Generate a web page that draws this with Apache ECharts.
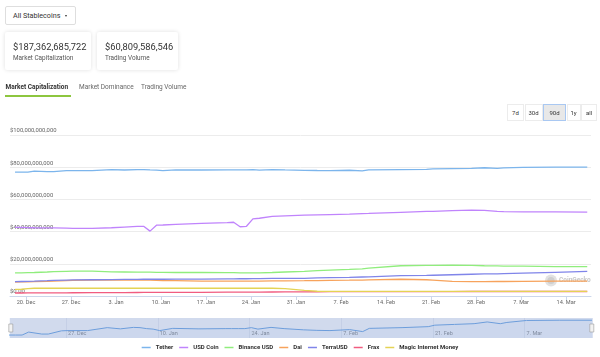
<!DOCTYPE html>
<html><head><meta charset="utf-8">
<script src="https://cdn.jsdelivr.net/npm/echarts@6/dist/echarts.min.js"></script>
<style>
html,body{margin:0;padding:0;background:#fff;width:600px;height:357px;overflow:hidden;font-family:Roboto,"Noto Sans",sans-serif;}
#chart{position:absolute;left:0;top:0;width:600px;height:357px;}
.ui{position:absolute;z-index:2;white-space:nowrap;box-sizing:border-box;}
#dd{left:5px;top:6px;width:71px;height:19px;border:1px solid #dedede;border-radius:2px;font-size:7.2px;color:#333;line-height:17px;padding-left:7px;background:#fff;}
#dd .caret{position:absolute;left:59px;top:7.5px;width:0;height:0;border-left:1.6px solid transparent;border-right:1.6px solid transparent;border-top:2px solid #333;}
.card{background:#fff;border-radius:2px;box-shadow:0 0 4px rgba(0,0,0,0.13);height:38px;top:32px;}
.card .num{position:absolute;left:8px;top:9px;font-size:9.3px;line-height:11px;color:#333;}
.card .lbl{position:absolute;left:8px;top:22px;font-size:6.4px;line-height:8px;color:#555;}
.tab{top:83px;font-size:6.5px;line-height:8px;color:#666;}
.tab.active{font-weight:bold;color:#333;}
#uline{left:5px;top:95.3px;width:66px;height:1.3px;background:#8dc63f;}
.btn{top:104px;height:17px;border:1px solid #ececec;font-size:6px;line-height:15px;text-align:center;color:#333;background:#fff;}
.btn.on{background:#e8e8e8;border:1px solid #a9c8f2;}
</style></head>
<body>
<div id="chart"></div>
<div class="ui" id="dd">All Stablecoins<span class="caret"></span></div>
<div class="ui card" style="left:5px;width:86px;"><div class="num">$187,362,685,722</div><div class="lbl">Market Capitalization</div></div>
<div class="ui card" style="left:97px;width:81px;"><div class="num">$60,809,586,546</div><div class="lbl">Trading Volume</div></div>
<div class="ui tab active" style="left:5.5px;">Market Capitalization</div>
<div class="ui" id="uline"></div>
<div class="ui tab" style="left:79px;">Market Dominance</div>
<div class="ui tab" style="left:141px;">Trading Volume</div>
<div class="ui btn" style="left:507px;width:17px;">7d</div>
<div class="ui btn" style="left:524.5px;width:18px;">30d</div>
<div class="ui btn on" style="left:543px;width:23px;">90d</div>
<div class="ui btn" style="left:566.5px;width:14px;">1y</div>
<div class="ui btn" style="left:581px;width:16px;">all</div>
<script>
// ---- data (values in billions of USD) ----
const dates = ['2021-12-18','2021-12-19','2021-12-20','2021-12-21','2021-12-23','2021-12-24','2021-12-26','2021-12-27','2021-12-30',
 '2022-01-02','2022-01-04','2022-01-06','2022-01-07','2022-01-08','2022-01-09','2022-01-10','2022-01-12','2022-01-16','2022-01-20','2022-01-21','2022-01-22','2022-01-23','2022-01-24','2022-01-25','2022-01-27','2022-01-29',
 '2022-02-01','2022-02-03','2022-02-05','2022-02-08','2022-02-10','2022-02-11','2022-02-16','2022-02-20','2022-02-21','2022-02-24','2022-02-27',
 '2022-03-01','2022-03-03','2022-03-04','2022-03-07','2022-03-12','2022-03-17'];
const tether = [77.0,77.0,77.0,77.6,77.2,77.2,77.85,77.9,77.9,
 78.5,78.25,78.55,78.5,78.3,78.2,77.9,78.35,78.25,78.3,78.3,78.3,78.3,78.5,78.2,78.55,78.3,
 78.05,77.95,77.9,78.1,77.7,78.35,78.5,78.7,79.0,79.15,79.3,
 79.65,79.3,79.55,79.95,80.0,80.0];
const usdCoin = [42.6,42.6,42.5,42.4,42.3,42.3,42.1,42.0,42.0,
 42.4,42.8,43.2,43.3,40.3,44.0,44.1,44.5,45.1,45.6,45.8,43.0,43.3,47.9,48.3,49.4,49.8,
 50.2,50.4,50.6,50.9,51.2,51.3,52.0,52.5,52.6,53.0,53.3,
 53.2,52.6,52.4,52.2,52.2,52.1];
const binanceUsd = [14.4,14.4,14.5,14.6,14.9,15.1,15.3,15.4,15.4,
 15.0,14.9,14.8,14.8,14.8,14.7,14.7,14.6,14.6,14.5,14.5,14.4,14.4,14.4,14.4,14.6,14.9,
 15.3,15.7,16.1,16.5,16.9,17.3,18.8,19.0,19.0,19.2,19.0,
 18.8,18.7,18.6,18.5,18.3,18.2];
const dai = [8.7,8.75,8.8,8.9,9.1,9.3,9.6,9.7,9.8,
 9.9,9.9,9.9,9.9,9.8,9.7,9.6,9.5,9.3,9.3,9.3,9.3,9.3,9.3,9.3,9.4,9.4,
 9.5,9.6,9.7,9.8,9.9,10.0,10.4,10.1,9.9,9.1,8.9,
 8.9,9.0,9.0,9.1,9.2,9.3];
const terraUsd = [8.9,9.0,9.1,9.2,9.5,9.7,9.9,10.0,10.1,
 10.2,10.3,10.3,10.4,10.4,10.4,10.4,10.5,10.5,10.6,10.6,10.7,10.7,10.8,10.8,10.9,10.9,
 11.0,11.2,11.4,11.6,11.8,11.9,12.6,12.8,12.9,13.2,13.5,
 13.7,13.8,13.9,14.2,14.7,15.3];
const frax = [1.85,1.86,1.88,1.9,1.95,1.97,2.0,2.02,2.08,
 2.12,2.15,2.18,2.2,2.2,2.2,2.22,2.25,2.3,2.35,2.37,2.38,2.4,2.42,2.44,2.5,2.55,
 2.6,2.65,2.7,2.72,2.74,2.75,2.75,2.76,2.76,2.77,2.78,
 2.78,2.79,2.79,2.8,2.8,2.8];
const magicInternetMoney = [4.15,4.2,4.6,4.8,4.8,4.8,4.8,4.8,4.8,
 4.8,4.8,4.8,4.8,4.8,4.8,4.8,4.8,4.8,4.8,4.8,4.8,4.8,4.8,4.8,4.8,4.6,
 3.5,2.95,2.9,2.9,2.9,2.9,2.9,2.9,2.9,2.88,2.88,
 2.87,2.87,2.86,2.86,2.85,2.85];
const seriesNames = ['Tether','USD Coin','Binance USD','Dai','TerraUSD','Frax','Magic Internet Money'];
const seriesColors = ['#7cb5ec','#c084fc','#90ed7d','#f7a35c','#8085e9','#f15c80','#e4d354'];
const seriesValues = [tether, usdCoin, binanceUsd, dai, terraUsd, frax, magicInternetMoney];
const yTickLabels = ['$0.00','$20,000,000,000','$40,000,000,000','$60,000,000,000','$80,000,000,000','$100,000,000,000'];
const xTickDates = ['2021-12-20','2021-12-27','2022-01-03','2022-01-10','2022-01-17','2022-01-24','2022-01-31','2022-02-07','2022-02-14','2022-02-21','2022-02-28','2022-03-07','2022-03-14'];
const xTickLabels = ['20. Dec','27. Dec','3. Jan','10. Jan','17. Jan','24. Jan','31. Jan','7. Feb','14. Feb','21. Feb','28. Feb','7. Mar','14. Mar'];
const navTickDates = ['2021-12-27','2022-01-10','2022-01-24','2022-02-07','2022-02-21','2022-03-07'];
const navTickLabels = ['27. Dec','10. Jan','24. Jan','7. Feb','21. Feb','7. Mar'];
const sampleTime = 'T07:00:00Z';          // time of day of each data sample
const viewStart = '2021-12-17T12:15:00Z'; // visible window of the main chart
const viewEnd = '2022-03-17T21:00:00Z';

// ---- helpers: dates -> days since 20 Dec 2021 ----
const ORIGIN = Date.UTC(2021, 11, 20);
const toDay = s => (Date.parse(s.length > 10 ? s : s + 'T00:00:00Z') - ORIGIN) / 864e5;
const dataDays = dates.map(d => toDay(d + sampleTime));
const xTickDays = xTickDates.map(toDay);
const navTickDays = navTickDates.map(toDay);
const pick = (days, labels) => v => { const i = days.findIndex(d => Math.abs(d - v) < 1e-6); return i < 0 ? '' : labels[i]; };

const chart = echarts.init(document.getElementById('chart'), null, {renderer: 'canvas'});
const FONT = 'Roboto';
const series = seriesNames.map((n, k) => ({
  name: n, type: 'line', xAxisIndex: 0, yAxisIndex: 0,
  data: seriesValues[k].map((v, i) => [dataDays[i], v]),
  showSymbol: false, symbol: 'none', color: seriesColors[k],
  lineStyle: {width: 1.3, color: seriesColors[k]},
  emphasis: {disabled: true}, animation: false, z: 2
}));
series.push({
  name: 'Tether', id: 'navigator', type: 'line', xAxisIndex: 1, yAxisIndex: 1,
  data: tether.map((v, i) => [dataDays[i], v]),
  showSymbol: false, symbol: 'none', color: seriesColors[0],
  lineStyle: {width: 1, color: '#6fa8e6'}, areaStyle: {color: 'rgba(124,181,236,0.08)'},
  emphasis: {disabled: true}, animation: false
});

chart.setOption({
  animation: false,
  textStyle: {fontFamily: FONT},
  grid: [
    {left: 10, right: 9, top: 135, height: 161, containLabel: false},
    {left: 9, right: 8, top: 318, height: 20, containLabel: false}
  ],
  xAxis: [{
    type: 'value', gridIndex: 0, min: toDay(viewStart), max: toDay(viewEnd),
    axisLine: {show: true, lineStyle: {color: '#ccd6eb', width: 1}},
    axisTick: {show: true, length: 4, lineStyle: {color: '#ccd6eb'}, customValues: xTickDays},
    axisLabel: {customValues: xTickDays, formatter: pick(xTickDays, xTickLabels), color: '#666', fontSize: 5.6, margin: 4, fontFamily: FONT},
    splitLine: {show: false}
  }, {
    type: 'value', gridIndex: 1, min: 'dataMin', max: 'dataMax',
    axisLine: {show: false}, axisTick: {show: false, customValues: navTickDays},
    axisLabel: {inside: true, customValues: navTickDays, formatter: pick(navTickDays, navTickLabels), color: '#8a8a8a', fontSize: 5.5, margin: 1.5, align: 'left', padding: [0, 0, 0, 2], fontFamily: FONT},
    splitLine: {show: true, lineStyle: {color: '#eef0f5', width: 1}}
  }],
  yAxis: [{
    type: 'value', gridIndex: 0, min: 0, max: 100, interval: 20,
    axisLine: {show: false}, axisTick: {show: false},
    axisLabel: {inside: true, margin: 0, align: 'left', verticalAlign: 'bottom', padding: [0, 0, 1, 0],
      formatter: v => yTickLabels[Math.round(v / 20)], color: '#666', fontSize: 5.9, fontFamily: FONT},
    splitLine: {show: true, lineStyle: {color: '#ececec', width: 1}}
  }, {
    type: 'value', gridIndex: 1,
    min: v => v.min - 0.2 * (v.max - v.min), max: v => v.max + 0.15 * (v.max - v.min),
    axisLine: {show: false}, axisTick: {show: false}, axisLabel: {show: false}, splitLine: {show: false}
  }],
  dataZoom: [{
    type: 'slider', xAxisIndex: 1, filterMode: 'none', start: 0, end: 100,
    left: 9, right: 8, top: 318, height: 20,
    showDataShadow: false, showDetail: false, brushSelect: false, moveHandleSize: 0,
    backgroundColor: 'transparent', borderColor: 'transparent',
    fillerColor: 'rgba(102,133,194,0.3)',
    handleIcon: 'path://M0,0 h4 v8 h-4 z', handleSize: 8,
    handleStyle: {color: '#f2f2f2', borderColor: '#999', borderWidth: 0.6},
    emphasis: {handleStyle: {color: '#f2f2f2', borderColor: '#999'}}
  }],
  legend: {
    data: seriesNames, left: 'center', top: 344.5, icon: 'rect', itemWidth: 9, itemHeight: 1.5,
    itemGap: 6, padding: 0, selectedMode: false,
    textStyle: {fontSize: 6, fontWeight: 'bold', color: '#333', fontFamily: FONT}
  },
  graphic: [{
    type: 'group', left: 545, top: 274.5,
    children: [
      {type: 'circle', shape: {cx: 6, cy: 6, r: 6}, style: {fill: '#e2e2e2'}},
      {type: 'circle', shape: {cx: 6, cy: 6, r: 3.6}, style: {fill: '#cfcfcf'}},
      {type: 'text', x: 14, y: 6, style: {text: 'CoinGecko', fill: '#c8c8c8', font: 'bold 6.5px Roboto', verticalAlign: 'middle'}}
    ]
  }],
  series: series
});
</script>
</body></html>
